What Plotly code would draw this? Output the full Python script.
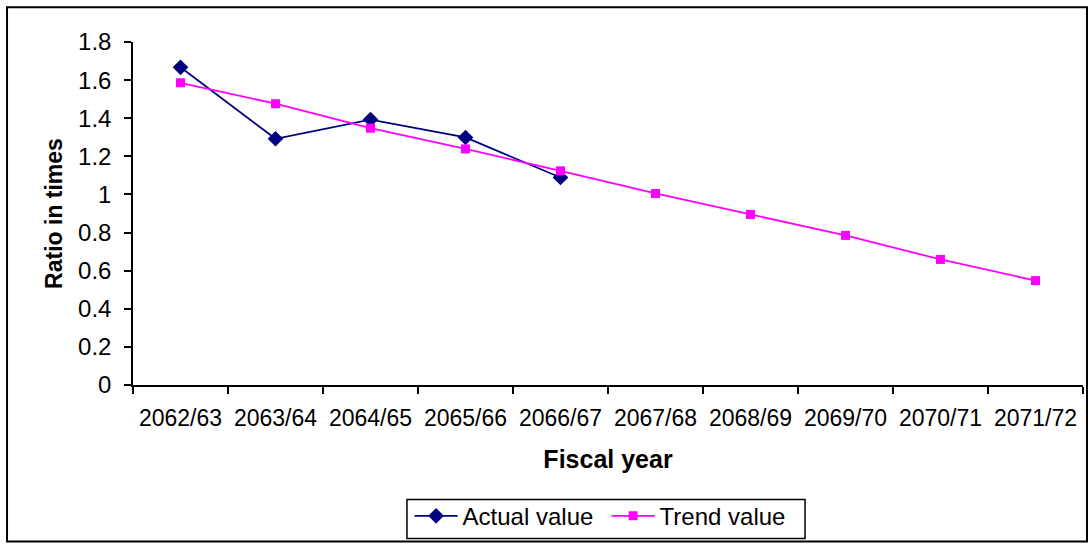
import plotly.graph_objects as go

years = ["2062/63", "2063/64", "2064/65", "2065/66", "2066/67",
         "2067/68", "2068/69", "2069/70", "2070/71", "2071/72"]
actual_years = years[:5]
actual_values = [1.667, 1.292, 1.393, 1.299, 1.089]
trend_values = [1.586, 1.476, 1.348, 1.239, 1.124, 1.005, 0.895, 0.785, 0.659, 0.548]
y_ticks = [0, 0.2, 0.4, 0.6, 0.8, 1, 1.2, 1.4, 1.6, 1.8]
y_tick_text = ["0", "0.2", "0.4", "0.6", "0.8", "1", "1.2", "1.4", "1.6", "1.8"]

FONT = "Liberation Sans, Arial, sans-serif"

fig = go.Figure()
fig.add_trace(go.Scatter(
    x=actual_years, y=actual_values, name="Actual value", mode="lines+markers",
    line=dict(color="#000080", width=1.8),
    marker=dict(symbol="diamond", size=12, color="#000080"),
))
fig.add_trace(go.Scatter(
    x=years, y=trend_values, name="Trend value", mode="lines+markers",
    line=dict(color="#FF00FF", width=1.8),
    marker=dict(symbol="square", size=9, color="#FF00FF"),
))

fig.update_layout(
    width=1092, height=545,
    margin=dict(l=133, r=9, t=42, b=160),
    paper_bgcolor="white", plot_bgcolor="white",
    font=dict(family=FONT, size=23, color="black"),
    showlegend=True,
    legend=dict(
        orientation="h", xref="paper", x=0.4985, xanchor="center",
        yref="container", y=0.094, yanchor="top",
        borderwidth=0, bgcolor="rgba(0,0,0,0)",
        font=dict(size=24), itemwidth=43, entrywidth=139,
    ),
    xaxis=dict(
        type="category", categoryorder="array", categoryarray=years,
        range=[-0.5, 9.5], tickson="boundaries", ticks="outside", ticklen=7,
        tickcolor="black", tickwidth=1.5, automargin=False,
        showline=True, linecolor="black", linewidth=1.5, showgrid=False,
        zeroline=False, tickfont=dict(size=23), ticklabelstandoff=12,
        title=dict(text="<b>Fiscal year</b>", font=dict(size=25), standoff=20),
    ),
    yaxis=dict(
        range=[0, 1.8], tickvals=y_ticks, ticktext=y_tick_text,
        ticks="outside", ticklen=7, tickcolor="black", tickwidth=1.5,
        automargin=False,
        showline=True, linecolor="black", linewidth=1.5, showgrid=False,
        zeroline=False, tickfont=dict(size=24), ticklabelstandoff=8,
        title=dict(text="<b>Ratio in times</b>", font=dict(size=23), standoff=9),
    ),
    shapes=[
        dict(type="rect", xref="paper", yref="paper",
             x0=-0.1326, x1=1.0042, y0=-0.4565, y1=1.1013,
             line=dict(color="black", width=2), fillcolor="rgba(0,0,0,0)", layer="below"),
        dict(type="rect", xref="paper", yref="paper",
             x0=0.2884, x1=0.7074, y0=-0.4478, y1=-0.334,
             line=dict(color="black", width=1.5), fillcolor="white", layer="below"),
    ],
)

fig.write_html("out.html", config={"displayModeBar": False},
               post_script="document.body.style.margin='0';")
